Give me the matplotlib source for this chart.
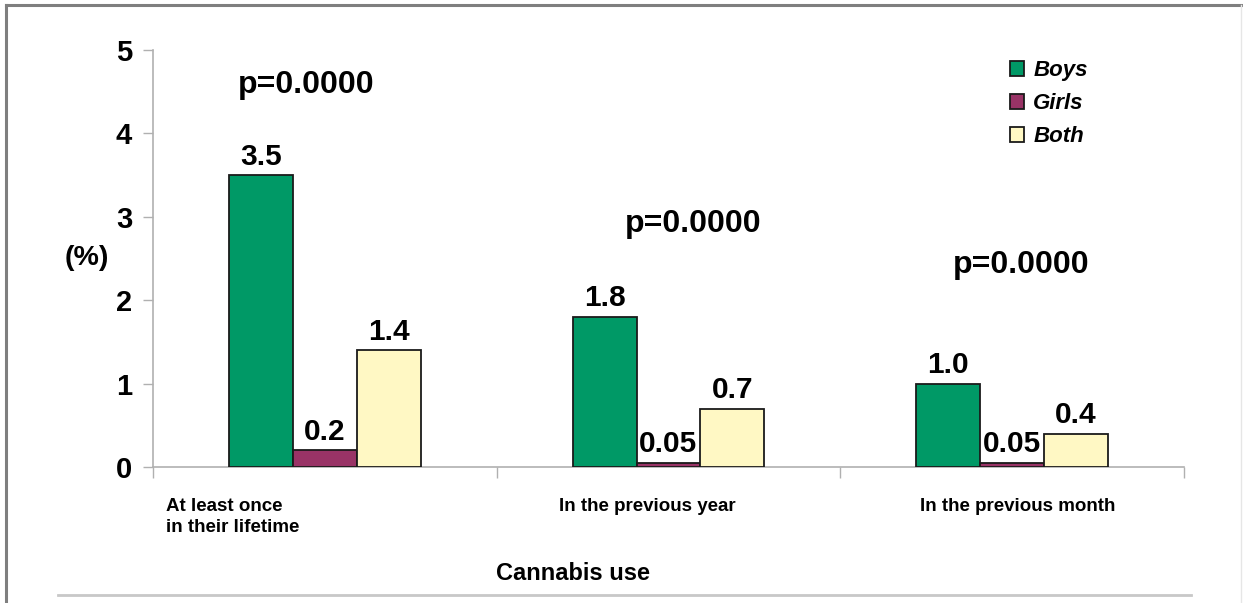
import matplotlib
matplotlib.use("Agg")
import matplotlib.pyplot as plt
from matplotlib.lines import Line2D
import numpy as np

plt.rcParams['font.family'] = ['Liberation Sans', 'DejaVu Sans']

# Prevalence of cannabis use (%) by sex
categories = ["At least once\nin their lifetime", "In the previous year", "In the previous month"]
series_names = ["Boys", "Girls", "Both"]
boys = [3.5, 1.8, 1.0]
girls = [0.2, 0.05, 0.05]
both = [1.4, 0.7, 0.4]
value_labels = [["3.5", "1.8", "1.0"], ["0.2", "0.05", "0.05"], ["1.4", "0.7", "0.4"]]
p_values = ["p=0.0000", "p=0.0000", "p=0.0000"]
y_ticks = [0, 1, 2, 3, 4, 5]

colors = ["#009966", "#993366", "#FFF8C4"]

W, H = 1243, 603
fig = plt.figure(figsize=(W / 100, H / 100), dpi=100)
ax = fig.add_axes([153 / W, 1 - 467 / H, (1184 - 153) / W, (467 - 50) / H])

x = np.arange(len(categories))
bw = 0.186
offsets = [-bw, 0.0, bw]
series = [boys, girls, both]
bars = []
for vals, off, col, name in zip(series, offsets, colors, series_names):
    b = ax.bar(x + off, vals, width=bw, color=col, edgecolor="#1a1a1a",
               linewidth=1.3, label=name, zorder=3)
    bars.append(b)

# value labels above each bar
for b, labs in zip(bars, value_labels):
    for rect, lab in zip(b, labs):
        ax.annotate(lab, (rect.get_x() + rect.get_width() / 2, rect.get_height()),
                    xytext=(0, 7.5), textcoords="offset points",
                    ha="center", va="baseline", fontsize=21.5, fontweight="bold",
                    zorder=5)

ax.set_xlim(-0.5, 2.5)
ax.set_ylim(0, 5)
ax.set_yticks(y_ticks)
ax.set_yticklabels([str(t) for t in y_ticks], fontsize=21, fontweight="bold")
ax.set_xticks([-0.5, 0.5, 1.5, 2.5])
ax.set_xticklabels([])
ax.tick_params(axis="y", length=7, width=1, color="#b0b0b0", pad=8)
ax.tick_params(axis="x", length=8, width=1, color="#b0b0b0")
for side in ["top", "right"]:
    ax.spines[side].set_visible(False)
for side in ["left", "bottom"]:
    ax.spines[side].set_color("#b0b0b0")
    ax.spines[side].set_linewidth(1.2)

# category labels beneath the axis
tr = ax.get_xaxis_transform()
ax.text(-0.462, -0.074, categories[0], transform=tr, ha="left", va="top",
        fontsize=13.5, fontweight="bold", linespacing=1.3)
ax.text(0.939, -0.074, categories[1], transform=tr, ha="center", va="top",
        fontsize=13.5, fontweight="bold")
ax.text(2.016, -0.074, categories[2], transform=tr, ha="center", va="top",
        fontsize=13.5, fontweight="bold")

# significance annotations
p_pos = [(306, 93), (693, 232), (1021, 273)]
for txt, (px, py) in zip(p_values, p_pos):
    fig.text(px / W, 1 - py / H, txt, ha="center", va="baseline",
             fontsize=23, fontweight="bold")

fig.text(573 / W, 1 - 580 / H, "Cannabis use", ha="center", va="baseline",
         fontsize=17, fontweight="bold")
fig.text(87 / W, 1 - 258 / H, "(%)", ha="center", va="center",
         fontsize=20.5, fontweight="bold")

leg = ax.legend(loc="upper left", bbox_to_anchor=(1010 / W, 1 - 60 / H),
                bbox_transform=fig.transFigure, frameon=False,
                prop={"size": 16, "weight": "bold", "style": "italic"},
                handlelength=0.65, handleheight=0.65, handletextpad=0.4,
                labelspacing=0.55, borderpad=0, borderaxespad=0)

# frame lines around the figure
fig.add_artist(Line2D([6 / W, 6 / W], [0, 1 - 5 / H], transform=fig.transFigure,
                      color="#7f7f7f", linewidth=2.2))
fig.add_artist(Line2D([6 / W, 1], [1 - 5 / H, 1 - 5 / H], transform=fig.transFigure,
                      color="#7f7f7f", linewidth=2.2))
fig.add_artist(Line2D([1241 / W, 1241 / W], [0, 1 - 5 / H], transform=fig.transFigure,
                      color="#e6e6e6", linewidth=1))
fig.add_artist(Line2D([58 / W, 1191 / W], [1 - 595 / H, 1 - 595 / H],
                      transform=fig.transFigure, color="#c8c8c8", linewidth=2))

fig.savefig("out.png", dpi=100)
